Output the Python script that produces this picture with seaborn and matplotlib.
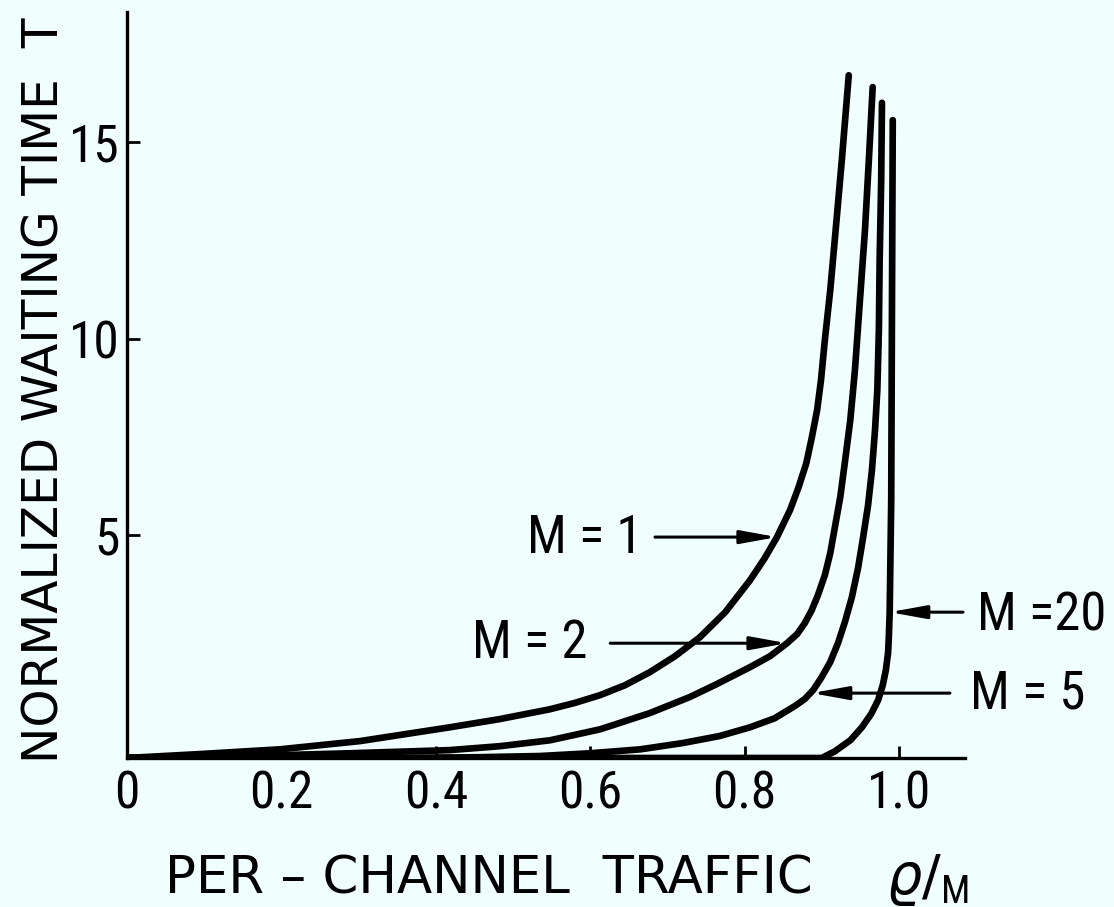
import matplotlib
matplotlib.use("Agg")
import matplotlib.pyplot as plt
import seaborn as sns
import pandas as pd
from matplotlib import font_manager

# per-channel traffic rho/M and normalized waiting time T
m1_rho = [0.000, 0.095, 0.198, 0.302, 0.418, 0.483, 0.548, 0.580, 0.613, 0.645,
          0.677, 0.710, 0.742, 0.775, 0.807, 0.826, 0.842, 0.859, 0.870, 0.880,
          0.887, 0.894, 0.899, 0.904, 0.911, 0.918, 0.926, 0.935]
m1_t = [-0.67, -0.57, -0.45, -0.24, 0.11, 0.32, 0.57, 0.73, 0.93, 1.18,
        1.51, 1.92, 2.40, 3.04, 3.85, 4.41, 4.95, 5.64, 6.22, 6.83,
        7.47, 8.18, 8.94, 9.96, 11.23, 12.76, 14.54, 16.70]

m2_rho = [0.000, 0.159, 0.289, 0.418, 0.483, 0.548, 0.613, 0.677, 0.729, 0.764,
          0.807, 0.833, 0.855, 0.868, 0.878, 0.887, 0.895, 0.904, 0.911, 0.917,
          0.924, 0.930, 0.937, 0.943, 0.949, 0.956, 0.961, 0.966]
m2_t = [-0.67, -0.62, -0.55, -0.47, -0.37, -0.22, 0.06, 0.47, 0.88, 1.21,
        1.64, 1.92, 2.25, 2.48, 2.76, 3.09, 3.47, 3.98, 4.54, 5.20,
        5.97, 6.86, 7.93, 9.20, 10.85, 12.76, 14.54, 16.40]

m5_rho = [0.000, 0.354, 0.457, 0.535, 0.600, 0.665, 0.720, 0.768, 0.807, 0.839,
          0.865, 0.878, 0.889, 0.900, 0.911, 0.921, 0.930, 0.939, 0.947, 0.953,
          0.960, 0.965, 0.969, 0.972, 0.974, 0.975, 0.977, 0.978]
m5_t = [-0.67, -0.67, -0.65, -0.62, -0.55, -0.45, -0.29, -0.11, 0.11, 0.34,
        0.65, 0.83, 1.06, 1.39, 1.77, 2.25, 2.79, 3.42, 4.16, 4.87,
        5.76, 6.65, 7.67, 8.69, 10.22, 12.00, 14.03, 16.00]

m20_rho = [0.000, 0.900, 0.917, 0.937, 0.952, 0.964, 0.973, 0.979, 0.983, 0.986,
           0.987, 0.988, 0.990, 0.991, 0.992]
m20_t = [-0.67, -0.67, -0.50, -0.22, 0.11, 0.45, 0.80, 1.18, 1.56, 2.02,
         2.46, 3.04, 5.89, 10.98, 15.56]

x_ticks = [0, 0.2, 0.4, 0.6, 0.8, 1.0]
x_tick_labels = ["0", "0.2", "0.4", "0.6", "0.8", "1.0"]
y_ticks = [5, 10, 15]

curves = {"M = 1": (m1_rho, m1_t), "M = 2": (m2_rho, m2_t),
          "M = 5": (m5_rho, m5_t), "M =20": (m20_rho, m20_t)}

df = pd.concat([pd.DataFrame({"rho": r, "T": t, "M": name})
                for name, (r, t) in curves.items()], ignore_index=True)

sns.set_style("ticks")

# narrow font if one is installed, the scan uses a condensed DIN-like face
names = {f.name for f in font_manager.fontManager.ttflist}
narrow = None
for cand in ["Roboto Condensed", "Liberation Sans Narrow", "Open Sans Condensed",
             "Noto Sans Condensed", "DejaVu Sans Condensed"]:
    if cand in names:
        narrow = cand
        break
if narrow is None:
    others = sorted(n for n in names if ("Condensed" in n or "Narrow" in n)
                    and "Mono" not in n and "Serif" not in n)
    narrow = others[0] if others else "DejaVu Sans"
plt.rcParams["font.family"] = [narrow, "DejaVu Sans"]
plt.rcParams["mathtext.fontset"] = "dejavusans"
for key in ["text.color", "axes.labelcolor", "xtick.color", "ytick.color"]:
    plt.rcParams[key] = "black"

bg = "#f0fefe"
fig = plt.figure(figsize=(11.14, 9.07), dpi=100, facecolor=bg)
ax = fig.add_axes([0.114, 0.1643, 0.7522, 0.8225])
ax.set_facecolor(bg)

sns.lineplot(data=df, x="rho", y="T", hue="M",
             palette={k: "black" for k in curves}, estimator=None, sort=False,
             legend=False, linewidth=4.8, solid_capstyle="round",
             solid_joinstyle="round", ax=ax)

ax.set_xlim(0, 1.0855)
ax.set_ylim(-0.67, 18.31)
sns.despine(ax=ax)
for side in ["left", "bottom"]:
    ax.spines[side].set_linewidth(2.4)
    ax.spines[side].set_color("black")

ax.set_xticks(x_ticks, x_tick_labels)
ax.set_yticks(y_ticks)
ax.tick_params(axis="both", direction="in", length=9, width=2.0, labelsize=37)
ax.tick_params(axis="x", pad=8)
ax.tick_params(axis="y", pad=5)

ax.set_ylabel("NORMALIZED WAITING TIME  T", fontsize=35, family="DejaVu Sans",
              va="baseline")
ax.yaxis.set_label_coords(-0.082, 0.493)
ax.set_xlabel("PER – CHANNEL  TRAFFIC", fontsize=37, family="DejaVu Sans",
              ha="left", va="baseline")
ax.xaxis.set_label_coords(0.045, -0.182)
ax.text(0.906, -0.182, r"$\varrho/_{\mathregular{M}}$", transform=ax.transAxes,
        fontsize=40, ha="left", va="baseline")

# arrows pointing at the curves: tip on the curve, tail where the label sits
arrow_kw = dict(arrowstyle="-|>,head_length=1.1,head_width=0.2", color="black",
                lw=2.2, shrinkA=0, shrinkB=0, mutation_scale=20)
labels = [
    ("M = 1", 0.842, 4.95, 0.684, 0.667, 4.54, "right"),
    ("M = 2", 0.855, 2.25, 0.626, 0.597, 1.87, "right"),
    ("M = 5", 0.887, 0.98, 1.066, 1.092, 0.60, "left"),
    ("M =20", 0.988, 3.04, 1.083, 1.101, 2.58, "left"),
]
for text, tip_x, tip_y, tail_x, tx, ty, ha in labels:
    ax.annotate("", xy=(tip_x, tip_y), xytext=(tail_x, tip_y),
                arrowprops=arrow_kw, annotation_clip=False)
    ax.text(tx, ty, text, fontsize=38, ha=ha, va="baseline", clip_on=False)

fig.savefig("out.png", dpi=100, facecolor=bg)
